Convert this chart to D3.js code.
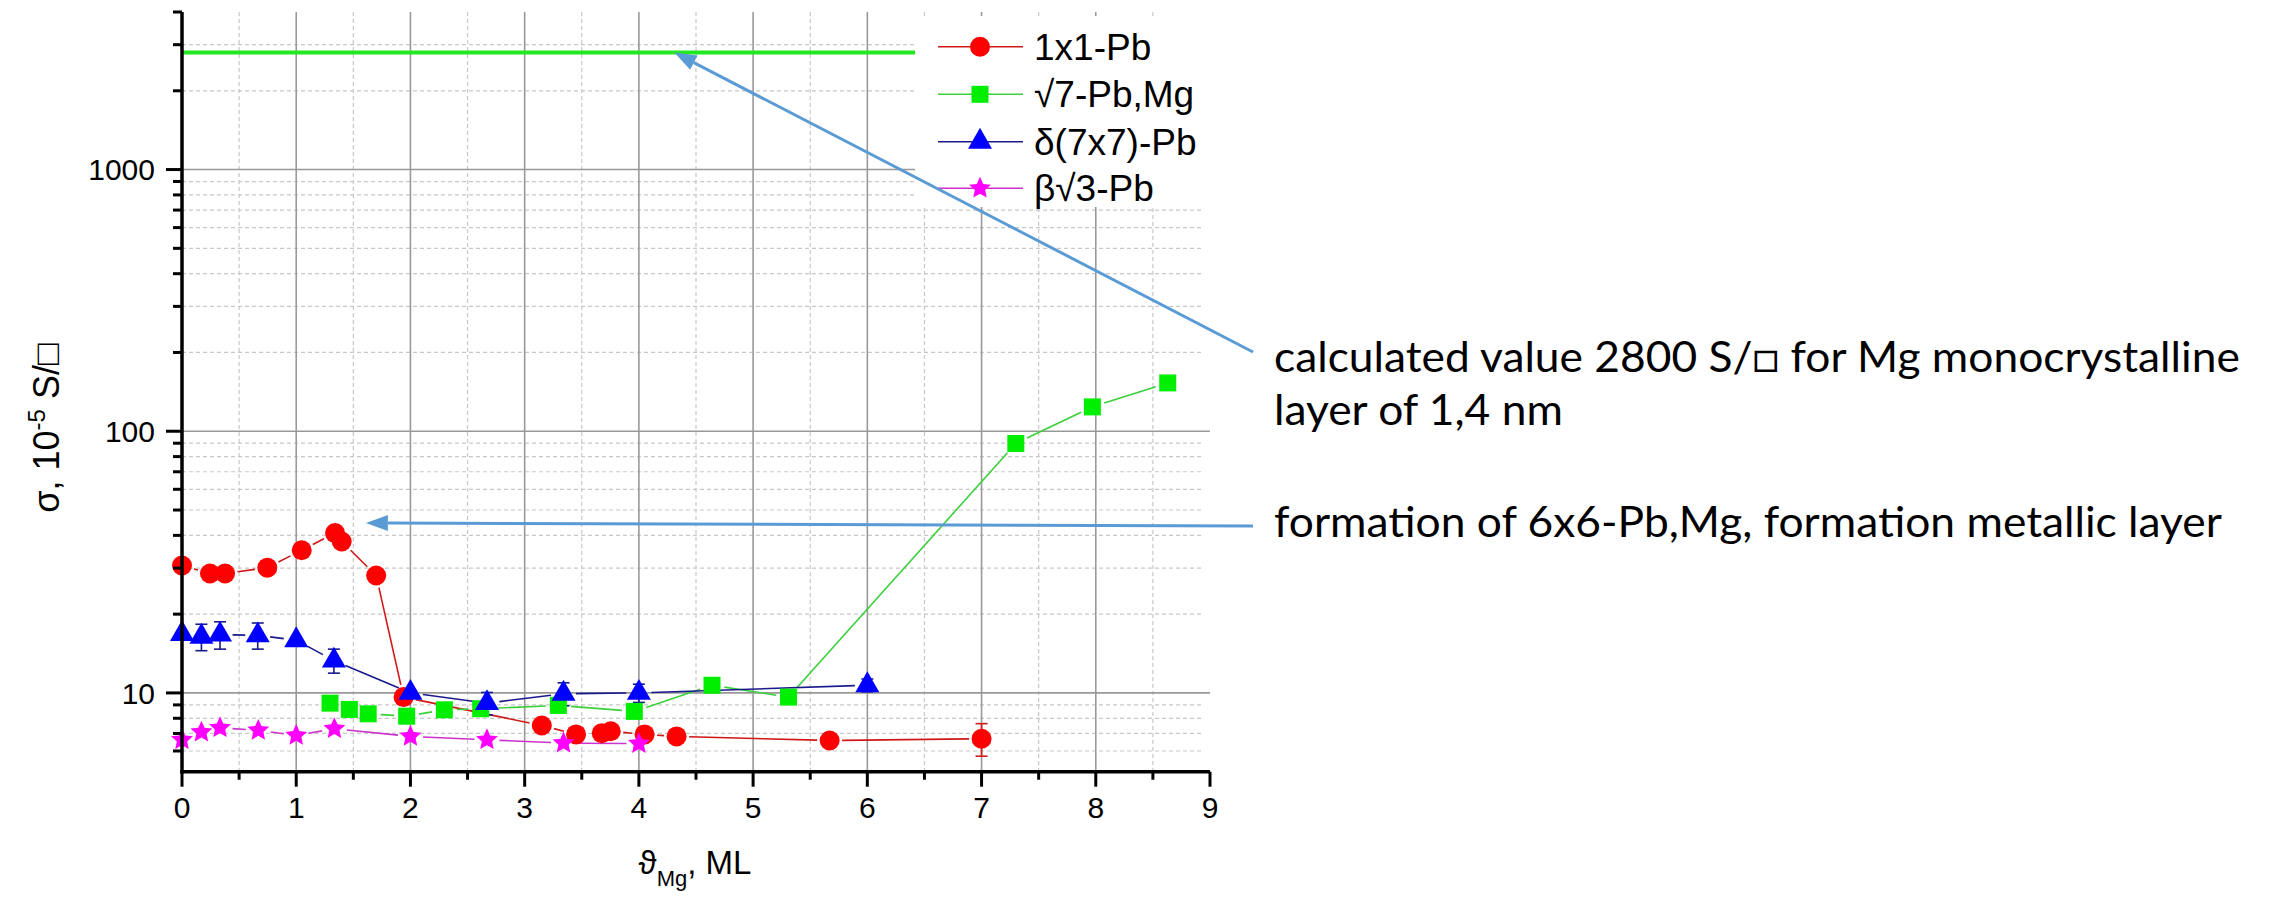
<!DOCTYPE html>
<html><head><meta charset="utf-8">
<script src="https://cdn.jsdelivr.net/npm/d3@7"></script>
<style>html,body{margin:0;padding:0;background:#fff;} svg{display:block;}</style>
</head><body>
<svg id="c" width="2270" height="901"></svg>
<script>
// ---------- data ----------
const xTickValues = [0,1,2,3,4,5,6,7,8,9];
const yTickLabels = [10,100,1000];
const seriesNames = ["1x1-Pb","\u221A7-Pb,Mg","\u03B4(7x7)-Pb","\u03B2\u221A3-Pb"];

const pbX   = [0, 0.245, 0.377, 0.747, 1.048, 1.34, 1.398, 1.70, 1.94, 3.15, 3.45, 3.675, 3.754, 4.05, 4.33, 5.67, 7.0];
const pbY   = [30.7, 28.6, 28.6, 30.1, 35.1, 40.8, 37.9, 28.1, 9.64, 7.51, 6.94, 7.02, 7.14, 6.94, 6.82, 6.58, 6.68];
const pbErr = [0, 0, 0, 0, 0, 0, 0, 0, 0, 0, 0, 0, 0, 0, 0, 0, 0.95];

const mgX = [1.296, 1.465, 1.63, 1.967, 2.297, 2.615, 3.295, 3.96, 4.64, 5.31, 7.30, 7.97, 8.63];
const mgY = [9.14, 8.65, 8.32, 8.15, 8.62, 8.70, 8.96, 8.50, 10.7, 9.64, 89.8, 123.9, 153];

const d77X   = [0, 0.17, 0.333, 0.663, 1.0, 1.33, 2.0, 2.67, 3.34, 4.0, 6.0];
const d77Y   = [16.8, 16.4, 16.7, 16.6, 15.9, 13.3, 10.0, 9.14, 9.93, 10.0, 10.7];
const d77Err = [0, 1.9, 2.0, 1.9, 0, 1.4, 0, 0.9, 1.0, 0.8, 0.6];

const b3X = [0, 0.17, 0.333, 0.668, 1.0, 1.334, 2.0, 2.67, 3.34, 4.0];
const b3Y = [6.62, 7.08, 7.36, 7.19, 6.88, 7.30, 6.82, 6.62, 6.43, 6.40];

const refValue = 2800;            // calculated value line
const arrow1Target = [4.31, 2800];
const arrow2Target = [1.61, 44.6];
const annotation1 = ["calculated value 2800 S/\u25A1 for Mg monocrystalline", "layer of 1,4 nm"];
const annotation2 = "formation of 6x6-Pb,Mg, formation metallic layer";

// ---------- layout ----------
const svg = d3.select("#c");
const L = 182, R = 1210, T = 12, B = 771.7;
const x = d3.scaleLinear().domain([0, 9]).range([L, R]);
const y = d3.scaleLog().domain([5, 4000]).range([B, T]);
const FONT = "'Liberation Sans', Arial, sans-serif";

const yMinor = [];
[1,10,100,1000].forEach(d => { for (let k=2;k<=9;k++){ const v=k*d; if (v>5 && v<4000 && v!==10 && v!==100 && v!==1000) yMinor.push(v);} });
const xMinor = d3.range(0.5, 9, 1);

// grid
const grid = svg.append("g");
grid.selectAll(".ym").data(yMinor).enter().append("line")
  .attr("x1", L).attr("x2", x(9)-6).attr("y1", d=>y(d)).attr("y2", d=>y(d))
  .attr("stroke", "#c8c8c8").attr("stroke-width", 1.2).attr("stroke-dasharray", "4,3");
grid.selectAll(".xm").data(xMinor).enter().append("line")
  .attr("x1", d=>x(d)).attr("x2", d=>x(d)).attr("y1", T).attr("y2", B)
  .attr("stroke", "#c8c8c8").attr("stroke-width", 1.2).attr("stroke-dasharray", "4,3");
grid.selectAll(".yM").data(yTickLabels).enter().append("line")
  .attr("x1", L).attr("x2", R).attr("y1", d=>y(d)).attr("y2", d=>y(d))
  .attr("stroke", "#999").attr("stroke-width", 1.6);
grid.selectAll(".xM").data(xTickValues.filter(v=>v>0 && v<9)).enter().append("line")
  .attr("x1", d=>x(d)).attr("x2", d=>x(d)).attr("y1", T).attr("y2", B)
  .attr("stroke", "#999").attr("stroke-width", 1.6);

// reference line
svg.append("line").attr("x1", x(0)).attr("x2", x(9)).attr("y1", y(refValue)).attr("y2", y(refValue))
  .attr("stroke", "#22e822").attr("stroke-width", 4);

// legend background (covers grid + ref line)
svg.append("rect").attr("x", 915).attr("y", 16).attr("width", 300).attr("height", 191).attr("fill", "#fff");

// series
function gapped(xs, ys, gap) {
  const segs = [];
  for (let i=0;i<xs.length-1;i++){
    const x1=x(xs[i]), y1=y(ys[i]), x2=x(xs[i+1]), y2=y(ys[i+1]);
    const dx=x2-x1, dy=y2-y1, len=Math.hypot(dx,dy);
    if (len <= 2*gap+2) continue;
    const ux=dx/len, uy=dy/len;
    segs.push([x1+ux*gap, y1+uy*gap, x2-ux*gap, y2-uy*gap]);
  }
  return segs;
}
const series = [
  {xs: pbX, ys: pbY, err: pbErr, line: "#d01818", fill: "#ff0000", sym: "circle"},
  {xs: mgX, ys: mgY, err: null, line: "#3ccf3c", fill: "#00ee00", sym: "square"},
  {xs: d77X, ys: d77Y, err: d77Err, line: "#1a1a8c", fill: "#0000ff", sym: "triangle"},
  {xs: b3X, ys: b3Y, err: null, line: "#cc33cc", fill: "#ff00ff", sym: "star"}
];
function starPath(ro, ri) {
  let p = "";
  for (let k=0;k<10;k++){
    const a = -Math.PI/2 + k*Math.PI/5, r = k%2===0 ? ro : ri;
    p += (k===0?"M":"L") + (r*Math.cos(a)).toFixed(2) + "," + (r*Math.sin(a)).toFixed(2);
  }
  return p + "Z";
}
const STAR = starPath(11.5, 5.4);
function drawMarker(g, sym, cx, cy, fill) {
  if (sym === "circle") g.append("circle").attr("cx", cx).attr("cy", cy).attr("r", 10).attr("fill", fill);
  else if (sym === "square") g.append("rect").attr("x", cx-8.5).attr("y", cy-8.5).attr("width", 17).attr("height", 17).attr("fill", fill);
  else if (sym === "triangle") g.append("path").attr("d", d3.symbol(d3.symbolTriangle, 250)()).attr("transform", `translate(${cx},${cy})`).attr("fill", fill);
  else g.append("path").attr("d", STAR).attr("transform", `translate(${cx},${cy})`).attr("fill", fill);
}
const lineG = svg.append("g");
series.forEach(s => {
  gapped(s.xs, s.ys, 12.5).forEach(sg => {
    lineG.append("line").attr("x1", sg[0]).attr("y1", sg[1]).attr("x2", sg[2]).attr("y2", sg[3])
      .attr("stroke", s.line).attr("stroke-width", 1.6);
  });
});
const errG = svg.append("g");
series.forEach(s => {
  if (!s.err) return;
  s.xs.forEach((xv, i) => {
    const e = s.err[i]; if (!e) return;
    const cx = x(xv), yt = y(s.ys[i]+e), yb = y(s.ys[i]-e);
    errG.append("line").attr("x1", cx).attr("x2", cx).attr("y1", yt).attr("y2", yb).attr("stroke", s.line).attr("stroke-width", 1.6);
    [yt, yb].forEach(yy => errG.append("line").attr("x1", cx-6).attr("x2", cx+6).attr("y1", yy).attr("y2", yy).attr("stroke", s.line).attr("stroke-width", 1.6));
  });
});
const mkG = svg.append("g");
series.forEach(s => s.xs.forEach((xv,i) => drawMarker(mkG, s.sym, x(xv), y(s.ys[i]), s.fill)));

// axes
const axG = svg.append("g");
axG.append("line").attr("x1", L).attr("x2", L).attr("y1", T).attr("y2", B+1.7).attr("stroke", "#000").attr("stroke-width", 3.5);
axG.append("line").attr("x1", L-1.7).attr("x2", R).attr("y1", B).attr("y2", B).attr("stroke", "#000").attr("stroke-width", 3.5);
axG.selectAll(".yt").data(yTickLabels).enter().append("line")
  .attr("x1", L-16).attr("x2", L).attr("y1", d=>y(d)).attr("y2", d=>y(d)).attr("stroke","#000").attr("stroke-width", 3);
axG.selectAll(".ytm").data(yMinor.concat([4000])).enter().append("line")
  .attr("x1", L-9).attr("x2", L).attr("y1", d=>y(d)).attr("y2", d=>y(d)).attr("stroke","#000").attr("stroke-width", 3);
axG.selectAll(".xt").data(xTickValues).enter().append("line")
  .attr("x1", d=>x(d)).attr("x2", d=>x(d)).attr("y1", B).attr("y2", B+15).attr("stroke","#000").attr("stroke-width", 3);
axG.selectAll(".xtm").data(xMinor).enter().append("line")
  .attr("x1", d=>x(d)).attr("x2", d=>x(d)).attr("y1", B).attr("y2", B+8).attr("stroke","#000").attr("stroke-width", 3);
axG.selectAll(".ytl").data(yTickLabels).enter().append("text")
  .attr("x", 155).attr("y", d=>y(d)).attr("dy", "0.36em").attr("text-anchor", "end")
  .attr("font-family", FONT).attr("font-size", 30).text(d=>d);
axG.selectAll(".xtl").data(xTickValues).enter().append("text")
  .attr("x", d=>x(d)).attr("y", 818).attr("text-anchor", "middle")
  .attr("font-family", FONT).attr("font-size", 30).text(d=>d);

// axis titles
const yt = svg.append("text").attr("transform", "translate(59,428) rotate(-90)")
  .attr("text-anchor", "middle").attr("font-family", FONT).attr("font-size", 36);
yt.append("tspan").text("\u03C3, 10");
yt.append("tspan").attr("dy", -14).attr("font-size", 24).text("-5");
yt.append("tspan").attr("dy", 14).text(" S/\u25A1");

const xt = svg.append("text").attr("x", 695).attr("y", 874).attr("text-anchor", "middle")
  .attr("font-family", FONT).attr("font-size", 33);
xt.append("tspan").text("\u03D1");
xt.append("tspan").attr("dy", 12).attr("font-size", 22).text("Mg");
xt.append("tspan").attr("dy", -12).text(", ML");

// legend
const lg = svg.append("g");
const rowsY = [46.7, 94.3, 141.7, 188.3];
series.forEach((s, i) => {
  lg.append("line").attr("x1", 938).attr("x2", 1023).attr("y1", rowsY[i]).attr("y2", rowsY[i]).attr("stroke", s.line).attr("stroke-width", 1.6);
  drawMarker(lg, s.sym, 980, rowsY[i], s.fill);
  lg.append("text").attr("x", 1034).attr("y", rowsY[i]+13).attr("font-family", FONT).attr("font-size", 37).text(seriesNames[i]);
});

// arrows
const blue = "#5b9bd5";
function arrow(x1, y1, x2, y2) {
  const dx = x2-x1, dy = y2-y1, len = Math.hypot(dx,dy), ux = dx/len, uy = dy/len;
  const hl = 22, hw = 8;
  const bx = x2-ux*hl, by = y2-uy*hl;
  svg.append("line").attr("x1", x1).attr("y1", y1).attr("x2", bx).attr("y2", by).attr("stroke", blue).attr("stroke-width", 3);
  svg.append("path").attr("d", `M${x2},${y2}L${bx-uy*hw},${by+ux*hw}L${bx+uy*hw},${by-ux*hw}Z`).attr("fill", blue);
}
arrow(1253, 352, x(arrow1Target[0]), y(arrow1Target[1]));
arrow(1253, 526, x(arrow2Target[0]), y(arrow2Target[1]));

// annotations
const AF = "Lato, 'Open Sans', sans-serif";
const ann = svg.append("g");
const t1 = ann.append("text").attr("font-family", AF).attr("font-size", 42).text(annotation1[0]);
const w1 = t1.node().getComputedTextLength();
const f = 966 / w1;
t1.attr("transform", `translate(1274,372) scale(${f},1)`);
ann.append("text").attr("font-family", AF).attr("font-size", 42).text(annotation1[1]).attr("transform", `translate(1274,425) scale(${f},1)`);
ann.append("text").attr("font-family", AF).attr("font-size", 42).text(annotation2).attr("transform", `translate(1274,537) scale(${f},1)`);
</script>
</body></html>
